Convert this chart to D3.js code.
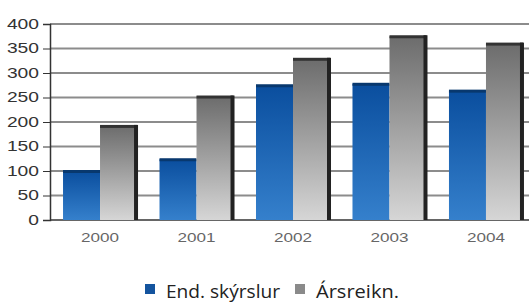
<!DOCTYPE html>
<html>
<head>
<meta charset="utf-8">
<script src="https://cdn.jsdelivr.net/npm/d3@7"></script>
<style>
  body { margin: 0; background: #fff; }
  svg { display: block; }
</style>
</head>
<body>
<svg id="chart" width="529" height="303"></svg>
<script>
var years = ["2000", "2001", "2002", "2003", "2004"];
var seriesNames = ["End. skýrslur", "Ársreikn."];
var endSkyrslur = [100, 124, 275, 278, 264];
var arsreikn = [192, 252, 329, 375, 360];
var yTicks = [0, 50, 100, 150, 200, 250, 300, 350, 400];

var svg = d3.select("#chart");
var defs = svg.append("defs");

// gradients for the bars
var gBlue = defs.append("linearGradient").attr("id", "gBlue")
    .attr("x1", 0).attr("y1", 0).attr("x2", 0).attr("y2", 1);
gBlue.append("stop").attr("offset", "0%").attr("stop-color", "#0a4e9e");
gBlue.append("stop").attr("offset", "100%").attr("stop-color", "#3580cc");

var gGray = defs.append("linearGradient").attr("id", "gGray")
    .attr("x1", 0).attr("y1", 0).attr("x2", 0).attr("y2", 1);
gGray.append("stop").attr("offset", "0%").attr("stop-color", "#6c6c6c");
gGray.append("stop").attr("offset", "100%").attr("stop-color", "#d6d6d6");

var y = d3.scaleLinear()
    .domain([0, 400])
    .range([220, 24]);

var x = d3.scaleBand()
    .domain(years)
    .range([50, 536])
    .paddingInner(0.233)
    .paddingOuter(0.135);

var xs = d3.scaleBand()
    .domain([0, 1])
    .range([0, x.bandwidth()]);

// gridlines
svg.append("g")
    .selectAll("line")
    .data(yTicks.filter(d => d > 0))
    .enter()
    .append("line")
    .attr("x1", 50)
    .attr("x2", 529)
    .attr("y1", d => y(d))
    .attr("y2", d => y(d))
    .attr("stroke", "#8c8c8c")
    .attr("stroke-width", 2);

// y axis
var axisY = d3.axisLeft(y)
    .tickValues(yTicks)
    .tickSize(7)
    .tickPadding(4);
var gy = svg.append("g")
    .attr("transform", "translate(50,0)")
    .call(axisY);
gy.select(".domain").attr("stroke", "#333").attr("stroke-width", 1.5);
gy.selectAll(".tick line").attr("stroke", "#333");
gy.selectAll("text")
    .attr("fill", "#333")
    .attr("textLength", d => String(d).length * 10.7)
    .attr("lengthAdjust", "spacingAndGlyphs")
    .style("font-family", "Arial, 'Liberation Sans', sans-serif")
    .style("font-size", "14px");

// baseline
svg.append("line")
    .attr("x1", 50).attr("x2", 529)
    .attr("y1", y(0)).attr("y2", y(0))
    .attr("stroke", "#333").attr("stroke-width", 1.5);

var groups = svg.selectAll(".year")
    .data(years)
    .enter()
    .append("g")
    .attr("class", "year")
    .attr("transform", d => "translate(" + x(d) + ",0)");

// blue bars
groups.append("rect")
    .attr("x", xs(0))
    .attr("y", (d, i) => y(endSkyrslur[i]))
    .attr("width", xs.bandwidth())
    .attr("height", (d, i) => y(0) - y(endSkyrslur[i]))
    .attr("fill", "url(#gBlue)");
groups.append("rect")
    .attr("x", xs(0))
    .attr("y", (d, i) => y(endSkyrslur[i]) - 1)
    .attr("width", xs.bandwidth())
    .attr("height", 3)
    .attr("fill", "#08386e");

// gray bars
groups.append("rect")
    .attr("x", xs(1))
    .attr("y", (d, i) => y(arsreikn[i]))
    .attr("width", xs.bandwidth())
    .attr("height", (d, i) => y(0) - y(arsreikn[i]))
    .attr("fill", "url(#gGray)");
groups.append("rect")
    .attr("x", xs(1))
    .attr("y", (d, i) => y(arsreikn[i]) - 1)
    .attr("width", xs.bandwidth())
    .attr("height", 3)
    .attr("fill", "#333");
groups.append("rect")
    .attr("x", xs(1) + xs.bandwidth() - 3)
    .attr("y", (d, i) => y(arsreikn[i]) - 1)
    .attr("width", 4)
    .attr("height", (d, i) => y(0) - y(arsreikn[i]) + 1)
    .attr("fill", "#222");

// x labels
var axisX = d3.axisBottom(x).tickSize(0).tickPadding(13);
var gx = svg.append("g")
    .attr("transform", "translate(0," + y(0) + ")")
    .call(axisX);
gx.select(".domain").remove();
gx.selectAll("text")
    .attr("fill", "#666")
    .attr("textLength", 38)
    .attr("lengthAdjust", "spacingAndGlyphs")
    .style("font-family", "Arial, 'Liberation Sans', sans-serif")
    .style("font-size", "13px");

// legend
var legendX = [145, 295];
var legendLen = [114, 83];
var legendFill = ["#14549e", "#8a8a8a"];
var legend = svg.selectAll(".legend")
    .data(seriesNames)
    .enter()
    .append("g")
    .attr("class", "legend")
    .attr("transform", (d, i) => "translate(" + legendX[i] + ",284)");
legend.append("rect")
    .attr("width", 10).attr("height", 10)
    .attr("fill", (d, i) => legendFill[i]);
legend.append("text")
    .attr("x", 21)
    .attr("y", 14)
    .attr("fill", "#222")
    .attr("textLength", (d, i) => legendLen[i])
    .attr("lengthAdjust", "spacingAndGlyphs")
    .style("font-family", "'Open Sans', sans-serif")
    .style("font-size", "18px")
    .text(d => d);
</script>
</body>
</html>
